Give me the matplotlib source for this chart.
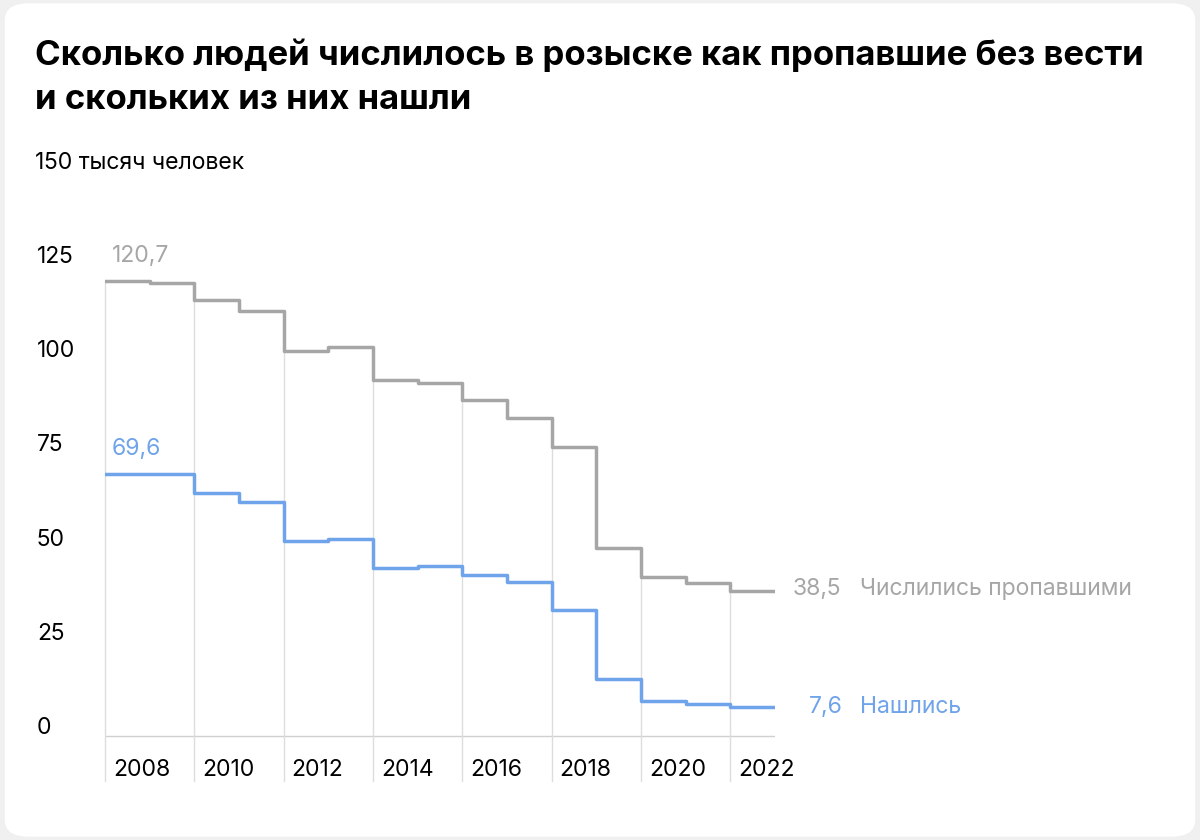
import matplotlib
matplotlib.use("Agg")
import matplotlib.pyplot as plt
from matplotlib.patches import FancyBboxPatch

years = list(range(2008, 2023))
missing = [120.7, 120.2, 115.7, 112.8, 102.1, 103.2, 94.4, 93.6, 89.1, 84.3, 76.6, 50.0, 42.3, 40.7, 38.5]
found = [69.6, 69.6, 64.5, 62.1, 51.7, 52.3, 44.6, 45.1, 42.7, 40.8, 33.4, 15.1, 9.3, 8.5, 7.6]
yticks = [0, 25, 50, 75, 100, 125]
xlabels = [2008, 2010, 2012, 2014, 2016, 2018, 2020, 2022]

GREY = "#a6a6a6"
BLUE = "#6fa3ea"
W, H = 1200, 840
fig = plt.figure(figsize=(12, 8.4), dpi=100)
fig.patch.set_facecolor("#f0f0f0")
card = FancyBboxPatch((0.004, 0.004), 0.992, 0.992, boxstyle="round,pad=0,rounding_size=0.02",
                      transform=fig.transFigure, facecolor="white", edgecolor="none", zorder=-10)
fig.patches.append(card)
F = "Inter"
fig.text(35/W, 1-55/H, "Сколько людей числилось в розыске как пропавшие без вести", fontsize=25,
         fontweight="bold", family=F, va="center")
fig.text(35/W, 1-100/H, "и скольких из них нашли", fontsize=25, fontweight="bold", family=F, va="center")
fig.text(35/W, 1-163/H, "150 тысяч человек", fontsize=16.5, family=F, va="center")

x0, x1 = 105, 775
ytop, ybot = 240, 790
ax = fig.add_axes([x0/W, 1-ybot/H, (x1-x0)/W, (ybot-ytop)/H], zorder=5)
ax.patch.set_alpha(0)
ax.set_xlim(2008, 2023)
per = 3.77
ax.set_ylim(-(ybot-736)/per, (736-ytop)/per)
ax.axis("off")

xs = years + [2023]
ax.step(xs, missing + [missing[-1]], where="post", color=GREY, lw=2.5, zorder=3)
ax.step(xs, found + [found[-1]], where="post", color=BLUE, lw=2.5, zorder=3)
ax.plot([2008, 2023], [0, 0], color="#d0d0d0", lw=1, zorder=1)
for i, y in enumerate(years):
    if (y - 2008) % 2 == 0:
        top = missing[i] if i == 0 else max(missing[i], missing[i-1])
        ax.plot([y, y], [-12, top], color="#dddddd", lw=1, zorder=1, clip_on=False)
for y in xlabels:
    ax.text(y + 0.18, -9, str(y), fontsize=16.5, family=F, va="center", ha="left")
for t in yticks:
    fig.text(37/W, 1-(736-t*per-8)/H, str(t), fontsize=16.5, family=F, va="center")

ax.text(2008.15, missing[0] + 6.5, "120,7", color=GREY, fontsize=16.5, family=F, va="center")
ax.text(2008.15, found[0] + 6.5, "69,6", color=BLUE, fontsize=16.5, family=F, va="center")
ax.text(2023.4, missing[-1] + 0.5, "38,5", color=GREY, fontsize=16.5, family=F, va="center")
ax.text(2024.9, missing[-1] + 0.5, "Числились пропавшими", color=GREY, fontsize=16.5, family=F, va="center")
ax.text(2023.75, found[-1], "7,6", color=BLUE, fontsize=16.5, family=F, va="center")
ax.text(2024.9, found[-1], "Нашлись", color=BLUE, fontsize=16.5, family=F, va="center")

fig.savefig("out.png", dpi=100, facecolor=fig.get_facecolor())
